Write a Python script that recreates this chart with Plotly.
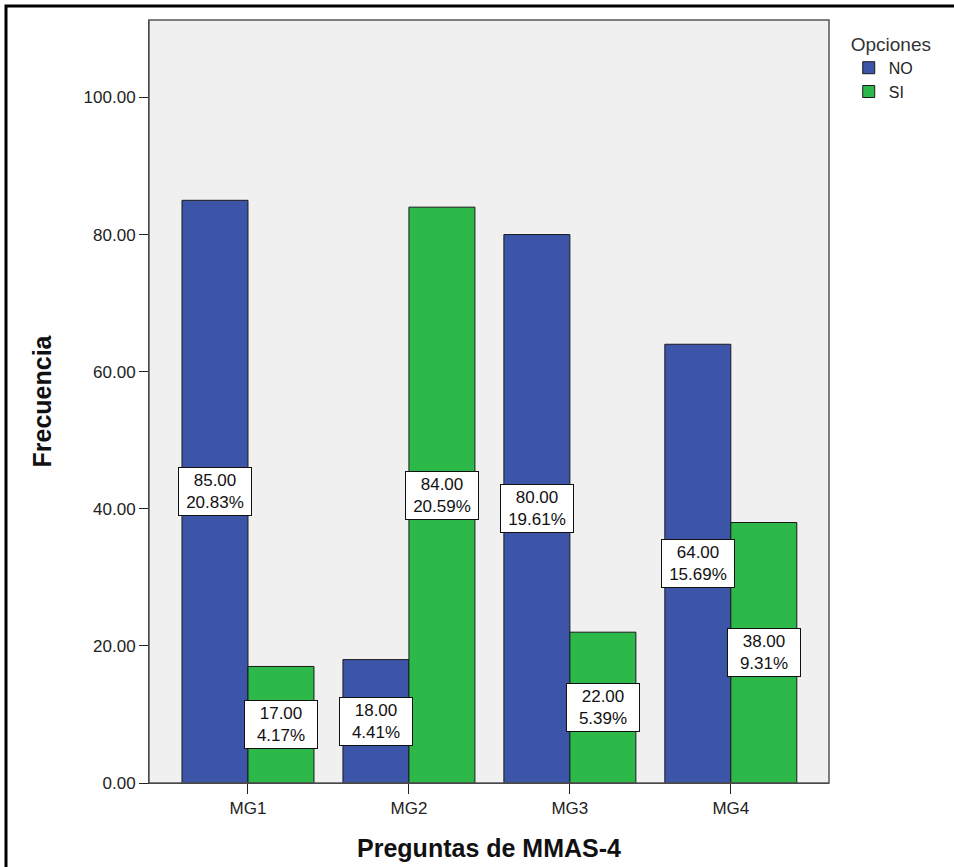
import plotly.graph_objects as go

categories = ["MG1", "MG2", "MG3", "MG4"]
no_values = [85, 18, 80, 64]
si_values = [17, 84, 22, 38]
no_pct = ["20.83%", "4.41%", "19.61%", "15.69%"]
si_pct = ["4.17%", "20.59%", "5.39%", "9.31%"]
y_ticks = [0, 20, 40, 60, 80, 100]
y_tick_labels = ["0.00", "20.00", "40.00", "60.00", "80.00", "100.00"]

BLUE = "#3C55A9"
GREEN = "#2DB84A"
FONT = "Liberation Sans, Arial, sans-serif"

fig = go.Figure()
fig.add_trace(go.Bar(x=categories, y=no_values, name="NO",
                     marker=dict(color=BLUE, line=dict(color="#1a1a1a", width=1))))
fig.add_trace(go.Bar(x=categories, y=si_values, name="SI",
                     marker=dict(color=GREEN, line=dict(color="#1a1a1a", width=1))))

annotations = []
for i, c in enumerate(categories):
    for vals, pcts, shift in ((no_values, no_pct, -33), (si_values, si_pct, 33)):
        annotations.append(dict(
            x=c, y=vals[i] / 2, xref="x", yref="y", xshift=shift,
            text=f"{vals[i]:.2f}<br>{pcts[i]}", showarrow=False,
            font=dict(family=FONT, size=17, color="#111111"),
            width=70, height=45,
            bgcolor="white", bordercolor="#111111", borderwidth=1, borderpad=1,
            align="center", valign="middle"))

fig.update_layout(
    width=954, height=867,
    margin=dict(l=149, r=125, t=20, b=84),
    paper_bgcolor="white", plot_bgcolor="#F0F0F0",
    barmode="group", bargap=0.18, bargroupgap=0,
    font=dict(family=FONT, size=17, color="#222222"),
    showlegend=True,
    legend=dict(x=1.029, y=0.992, xanchor="left", yanchor="top",
                title=dict(text="Opciones", font=dict(size=19, color="#333333")),
                font=dict(size=16, color="#222222"), bgcolor="rgba(0,0,0,0)",
                itemwidth=30, tracegroupgap=0),
    annotations=annotations,
    xaxis=dict(range=[-0.615, 3.61], showline=True, linecolor="#222222", linewidth=1,
               mirror=False, ticks="outside", ticklen=10, tickcolor="#222222",
               tickfont=dict(size=17, color="#222222"), showgrid=False, automargin=False,
               title=dict(text="<b>Preguntas de MMAS-4</b>", font=dict(size=25, color="#111111"),
                          standoff=22)),
    yaxis=dict(range=[0, 111.3], tickvals=y_ticks, ticktext=y_tick_labels,
               showline=True, linecolor="#222222", linewidth=1, showgrid=False,
               zeroline=False, ticks="outside", ticklen=9, tickcolor="#222222",
               tickfont=dict(size=17, color="#222222"), automargin=False,
               title=dict(text="<b>Frecuencia</b>", font=dict(size=25, color="#111111"),
                          standoff=24)),
    shapes=[
        dict(type="rect", xref="paper", yref="paper", x0=0, x1=1, y0=0, y1=1,
             line=dict(color="#555555", width=1.5), fillcolor="rgba(0,0,0,0)", layer="above"),
        dict(type="rect", xref="paper", yref="paper", x0=-0.2103, x1=1.3, y0=-0.2, y1=1.0183,
             line=dict(color="black", width=3), fillcolor="rgba(0,0,0,0)"),
    ],
)

fig.write_html("out.html", config={"displayModeBar": False},
               post_script="document.body.style.margin='0';document.body.style.overflow='hidden';")
